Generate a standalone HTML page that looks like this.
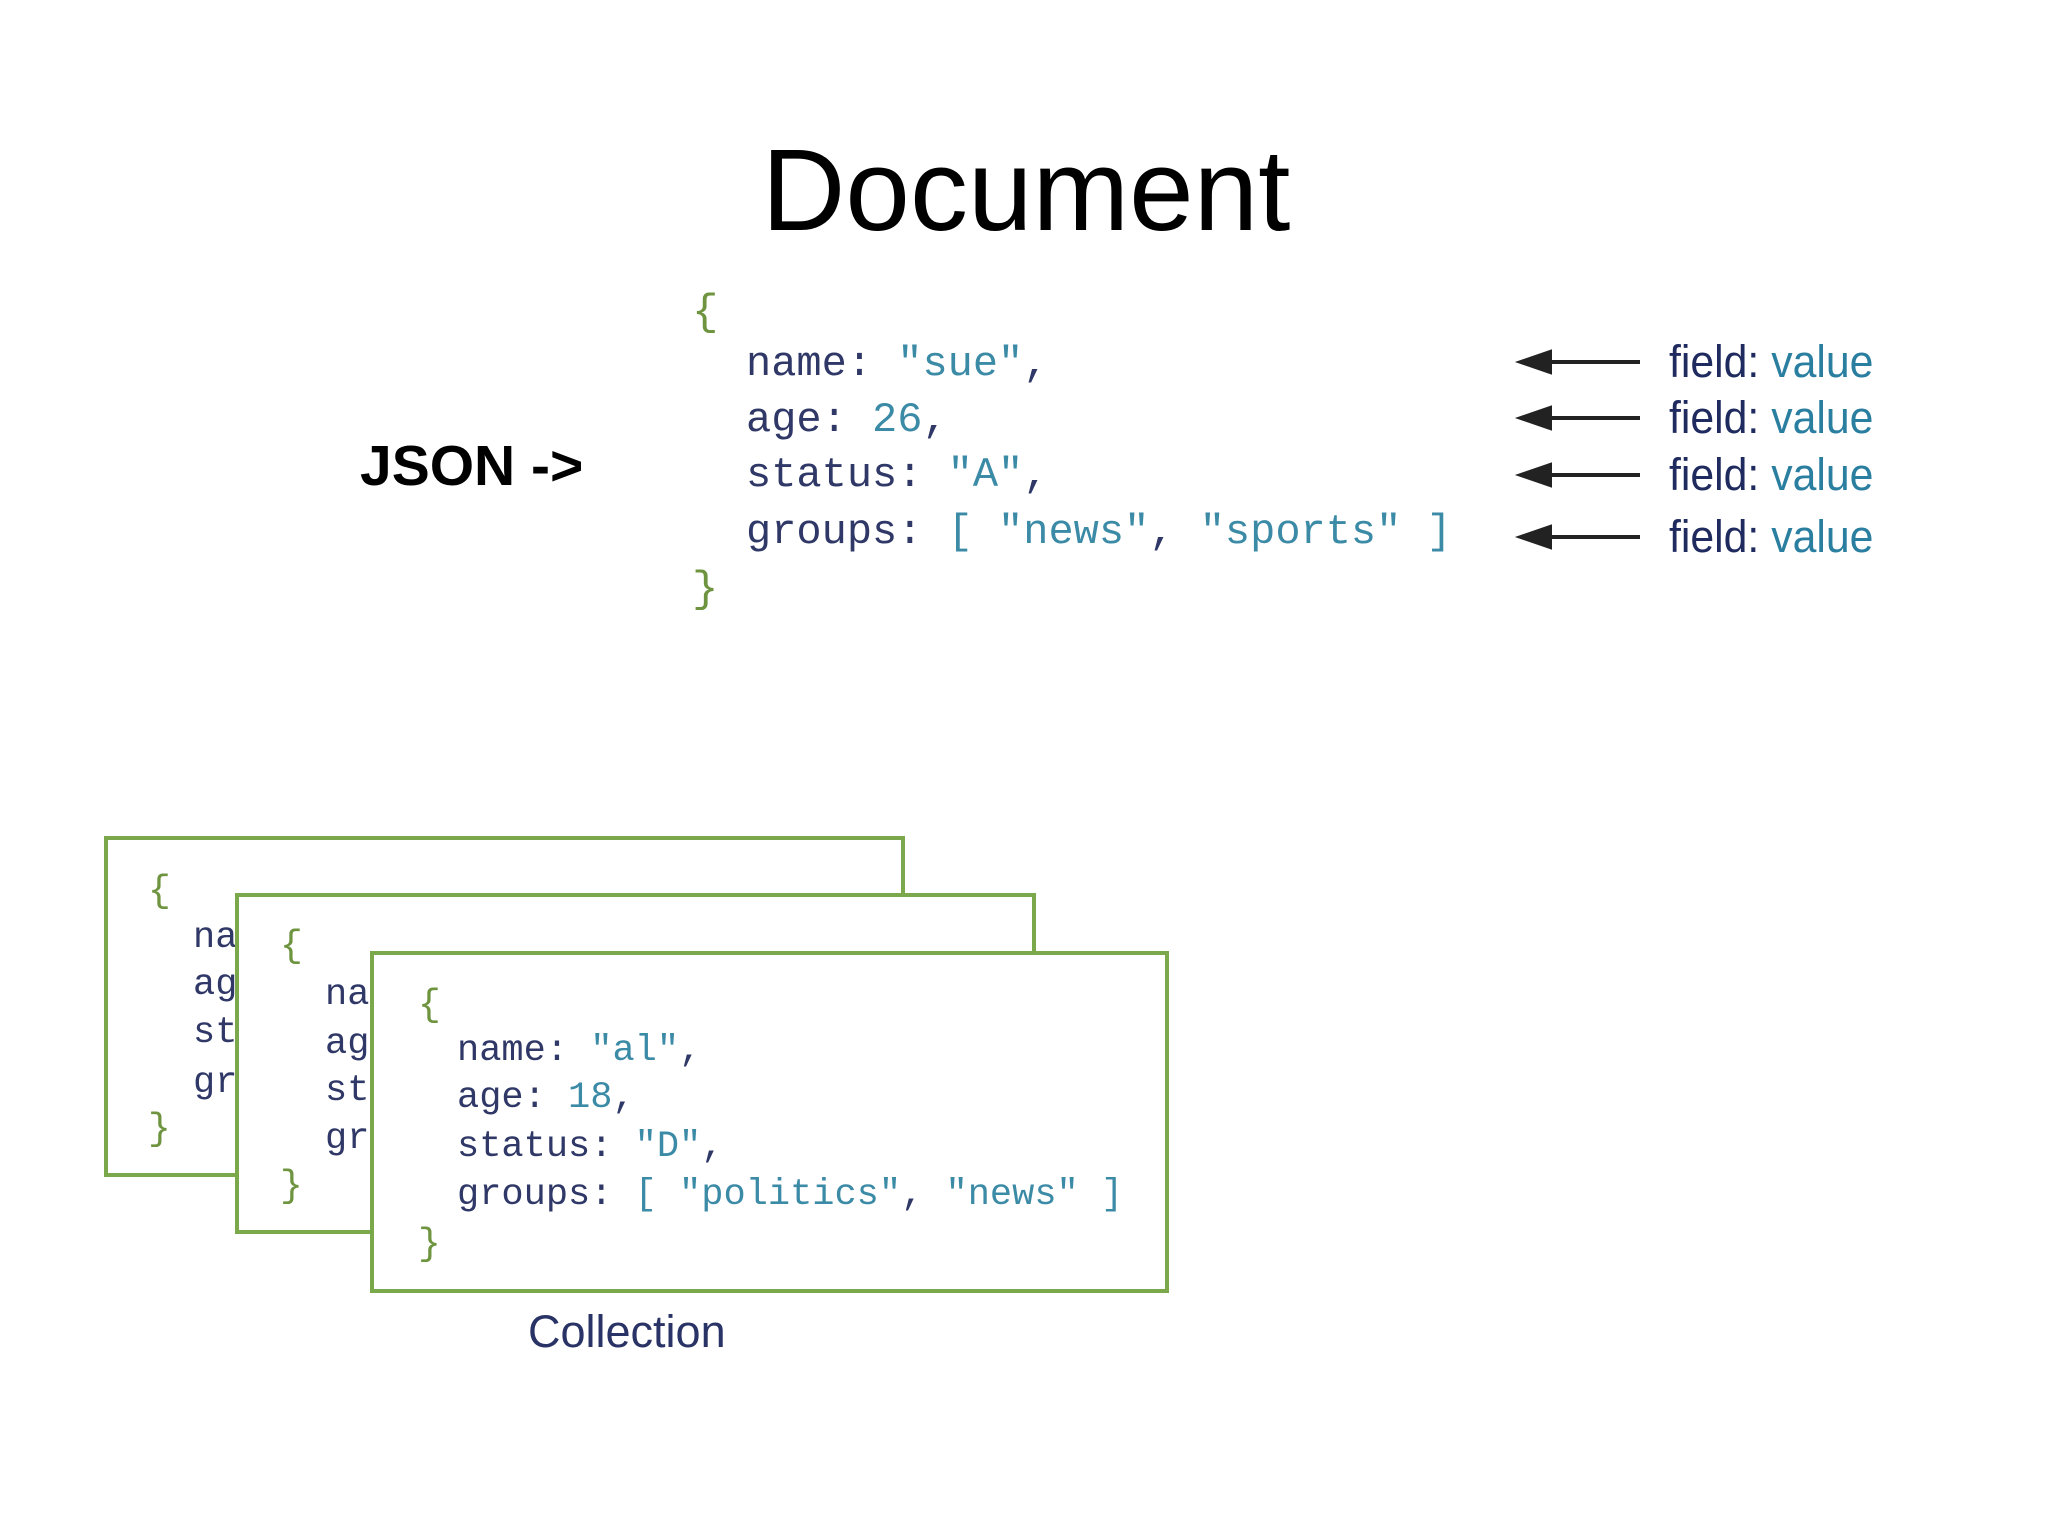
<!DOCTYPE html>
<html><head><meta charset="utf-8"><style>
body{margin:0;width:2048px;height:1536px;background:#fff;position:relative;overflow:hidden;font-family:"Liberation Sans",sans-serif}
.a{position:absolute;white-space:pre;line-height:60px}
.m{font-family:"Liberation Mono",monospace}
.k{color:#2f3866}.v{color:#3b8aa6}.b{color:#6f9440}
.box{position:absolute;border:4px solid #7aa84a;background:#fff;overflow:hidden}
.fv{font-size:45px;transform:scaleX(0.95);transform-origin:left center}
</style></head><body>
<div class="a" style="left:0;width:2048px;text-align:center;top:120px;font-size:116px;line-height:140px;color:#000;padding-left:2px">Document</div>
<div class="a" style="left:360px;top:436px;font-size:57px;font-weight:bold;color:#000">JSON -&gt;</div>

<div class="a m b" style="left:692px;top:283px;font-size:44px">{</div>
<div class="a m" style="left:746px;top:334px;font-size:42px"><span class="k">name: </span><span class="v">"sue"</span><span class="k">,</span></div>
<div class="a m" style="left:746px;top:390px;font-size:42px"><span class="k">age: </span><span class="v">26</span><span class="k">,</span></div>
<div class="a m" style="left:746px;top:445px;font-size:42px"><span class="k">status: </span><span class="v">"A"</span><span class="k">,</span></div>
<div class="a m" style="left:746px;top:502px;font-size:42px"><span class="k">groups: </span><span class="v">[ "news"</span><span class="k">, </span><span class="v">"sports" ]</span></div>
<div class="a m b" style="left:692px;top:560px;font-size:44px">}</div>

<svg style="position:absolute;left:0;top:0" width="2048" height="1536">
<g stroke="#222" stroke-width="4" fill="#222">
<line x1="1545" y1="362" x2="1640" y2="362"/><polygon points="1521,362 1550,352 1550,372"/>
<line x1="1545" y1="418" x2="1640" y2="418"/><polygon points="1521,418 1550,408 1550,428"/>
<line x1="1545" y1="475" x2="1640" y2="475"/><polygon points="1521,475 1550,465 1550,485"/>
<line x1="1545" y1="537" x2="1640" y2="537"/><polygon points="1521,537 1550,527 1550,547"/>
</g></svg>
<div class="a fv" style="left:1669px;top:332px"><span style="color:#1f2a5e">field:</span> <span style="color:#2a7ea0">value</span></div>
<div class="a fv" style="left:1669px;top:388px"><span style="color:#1f2a5e">field:</span> <span style="color:#2a7ea0">value</span></div>
<div class="a fv" style="left:1669px;top:445px"><span style="color:#1f2a5e">field:</span> <span style="color:#2a7ea0">value</span></div>
<div class="a fv" style="left:1669px;top:507px"><span style="color:#1f2a5e">field:</span> <span style="color:#2a7ea0">value</span></div>

<div class="box" style="left:104px;top:836px;width:793px;height:333px">
<div class="a m b" style="left:40px;top:22px;font-size:38px">{</div>
<div class="a m k" style="left:85px;top:68px;font-size:37px">name: "sue",</div>
<div class="a m k" style="left:85px;top:115px;font-size:37px">age: 26,</div>
<div class="a m k" style="left:85px;top:163px;font-size:37px">status: "A",</div>
<div class="a m k" style="left:85px;top:213px;font-size:37px">groups: [ ]</div>
<div class="a m b" style="left:40px;top:260px;font-size:38px">}</div>
</div>
<div class="box" style="left:235px;top:893px;width:793px;height:333px">
<div class="a m b" style="left:41px;top:20px;font-size:38px">{</div>
<div class="a m k" style="left:86px;top:68px;font-size:37px">name: "bo",</div>
<div class="a m k" style="left:86px;top:117px;font-size:37px">age: 30,</div>
<div class="a m k" style="left:86px;top:164px;font-size:37px">status: "B",</div>
<div class="a m k" style="left:86px;top:212px;font-size:37px">groups: [ ]</div>
<div class="a m b" style="left:41px;top:260px;font-size:38px">}</div>
</div>
<div class="box" style="left:370px;top:951px;width:791px;height:334px">
<div class="a m b" style="left:44px;top:21px;font-size:38px">{</div>
<div class="a m" style="left:83px;top:66px;font-size:37px"><span class="k">name: </span><span class="v">"al"</span><span class="k">,</span></div>
<div class="a m" style="left:83px;top:113px;font-size:37px"><span class="k">age: </span><span class="v">18</span><span class="k">,</span></div>
<div class="a m" style="left:83px;top:162px;font-size:37px"><span class="k">status: </span><span class="v">"D"</span><span class="k">,</span></div>
<div class="a m" style="left:83px;top:210px;font-size:37px"><span class="k">groups: </span><span class="v">[ "politics"</span><span class="k">, </span><span class="v">"news" ]</span></div>
<div class="a m b" style="left:44px;top:260px;font-size:38px">}</div>
</div>
<div class="a" style="left:528px;top:1302px;font-size:45px;color:#2a3366">Collection</div>
</body></html>
